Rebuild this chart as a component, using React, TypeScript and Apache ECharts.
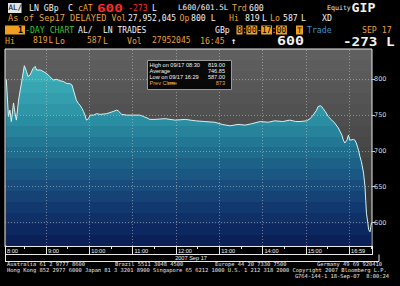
import React, { useEffect, useRef } from "react";
import * as echarts from "echarts";

// ---- data (minutes after 08:00, price in GBp) ----
const minutes = [
  5, 8, 10, 12, 15, 17, 19, 22, 26, 30, 33, 35, 38, 42, 45, 47, 52, 56, 61, 65,
  70, 75, 79, 84, 89, 93, 96, 98, 100, 102, 105, 107, 110, 112, 114, 116, 119, 121, 126, 130,
  135, 144, 153, 158, 160, 165, 172, 181, 190, 195, 200, 204, 211, 225, 239, 253, 267, 280, 294, 304,
  315, 326, 336, 345, 357, 368, 377, 388, 398, 406, 412, 421, 426, 430, 435, 437, 440, 442, 444, 447,
  451, 456, 460, 465, 470, 472, 474, 477, 479, 481, 486, 488, 490, 493, 495, 497, 500, 502, 503, 504,
  506, 507, 509, 510, 511,
];
const prices = [
  800, 748, 757, 741, 767, 753, 743, 771, 795, 819, 811, 804, 806, 815, 818, 813, 813, 811, 808, 804,
  799, 800, 798, 797, 794, 794, 792, 785, 778, 771, 766, 764, 759, 755, 750, 743, 745, 750, 750, 752,
  751, 752, 755, 757, 756, 751, 750, 750, 750, 748, 746, 744, 744, 745, 743, 744, 742, 741, 740, 737,
  735, 737, 736, 738, 741, 740, 742, 741, 743, 741, 741, 742, 745, 750, 757, 762, 763, 762, 759, 755,
  748, 743, 739, 732, 722, 715, 711, 715, 722, 715, 716, 715, 711, 701, 692, 685, 669, 650, 631, 613,
  599, 590, 587, 594, 600,
];

const hourTickValues = [3.2, 60, 120, 180, 240, 300, 360, 420, 480];
const hourTickLabels = ["8:00", "9:00", "10:00", "11:00", "12:00", "13:00", "14:00", "15:00", "16:59"];
const halfHourTicks = [30, 90, 150, 210, 270, 330, 390, 450, 510];
const priceTicks = [600, 650, 700, 750, 800];
const xMin = 3.2;
const xMax = 511.7;
const yMin = 567.2;
const yMax = 842.3;

const statLabels = ["High on 09/17 08:30", "Average", "Low on 09/17 16:29", "Prev Close"];
const statValues = ["819.00", "746.85", "587.00", "873"];

const footerRow1 = [
  ["Australia 61 2 9777 8600", 7],
  ["Brazil 5511 3048 4500", 115],
  ["Europe 44 20 7330 7500", 215],
  ["Germany 49 69 920410", 317],
] as [string, number][];
const footerRow2 =
  "Hong Kong 852 2977 6000 Japan 81 3 3201 8900 Singapore 65 6212 1000 U.S. 1 212 318 2000 Copyright 2007 Bloomberg L.P.";
const footerRow3 = "G764-144-1 18-Sep-07  8:00:24";
const dateLabel = "2007 Sep 17";

// ---- colour helpers ----
function hex(h: string) {
  const n = parseInt(h.slice(1), 16);
  return [(n >> 16) & 255, (n >> 8) & 255, n & 255];
}
function lerp(stops: [number, string][], f: number) {
  for (let i = 0; i < stops.length - 1; i++) {
    const [a, ca] = stops[i];
    const [b, cb] = stops[i + 1];
    if (f >= a && f <= b) {
      const t = (f - a) / (b - a);
      const A = hex(ca), B = hex(cb);
      const c = A.map((v, k) => Math.round(v + (B[k] - v) * t));
      return `rgb(${c[0]},${c[1]},${c[2]})`;
    }
  }
  return stops[stops.length - 1][1];
}
function banded(stops: [number, string][], n: number) {
  const out: { offset: number; color: string }[] = [];
  for (let i = 0; i < n; i++) {
    const c = lerp(stops, (i + 0.5) / n);
    out.push({ offset: i / n, color: c });
    out.push({ offset: (i + 1) / n, color: c });
  }
  return out;
}

const bgStops: [number, string][] = [
  [0, "#616161"],
  [0.5, "#474747"],
  [1, "#242424"],
];
const areaStops: [number, string][] = [
  [0, "#4cc2c8"],
  [0.15, "#3bacb6"],
  [0.35, "#2b90a3"],
  [0.52, "#1f6e8e"],
  [0.7, "#174b7c"],
  [0.88, "#0f2d66"],
  [1, "#0a1c52"],
];

const AMBER = "#e9a23b";
const WHITE = "#f2f2f2";
const RED = "#ff2b2b";
const GREEN = "#36c236";
const BLUE = "#3f93c9";
const ORANGE = "#f0a020";
const MONO = '"DejaVu Sans Mono", monospace';
const SANS = '"Liberation Sans", Arial, sans-serif';

function txt(
  text: string,
  x: number,
  y: number,
  fill: string,
  size = 8.2,
  weight = "normal",
  family = MONO,
  align = "left",
  scaleX = 1
) {
  return {
    type: "text",
    x,
    y,
    scaleX,
    z: 10,
    silent: true,
    style: { text, fill, fontSize: size, fontWeight: weight, fontFamily: family, align, verticalAlign: "middle" },
  };
}
function box(x: number, y: number, w: number, h: number, fill: string) {
  return { type: "rect", z: 9, silent: true, shape: { x, y, width: w, height: h }, style: { fill } };
}
function ln(x1: number, y1: number, x2: number, y2: number, stroke = "#e8e8e8") {
  return { type: "line", z: 10, silent: true, shape: { x1, y1, x2, y2 }, style: { stroke, lineWidth: 1 } };
}

export default function App() {
  const ref = useRef<HTMLDivElement>(null);
  useEffect(() => {
    document.body.style.background = "#000";
    const chart = echarts.init(ref.current!, undefined, { renderer: "svg" });
    const data = minutes.map((m, i) => [m, prices[i]]);
    const y1 = 7.8, y2 = 18.2, y3 = 30, y4 = 40.8;
    const cw = 8.2 * 0.602; // mono char width
    const rx = 237; // start of "8:00-17:00"
    const graphic: any[] = [
      // line 1
      box(8, 3, 13.5, 10, "#e4e4e4"),
      txt("AL/", 8.5, y1, "#000", 7.5),
      txt("LN GBp", 29, y1, WHITE),
      txt("C", 68, y1, WHITE),
      txt("cAT", 78, y1, AMBER),
      txt("600", 97, y1, RED, 11, "bold", MONO, "left", 1.3),
      txt("-273", 128, y1, RED),
      txt("L", 152, y1, WHITE),
      txt("L600/601.5L", 178, y1, WHITE, 7.6),
      txt("Trd", 232, y1, AMBER),
      txt("600", 249, y1, WHITE),
      txt("Equity", 327, y1, WHITE, 6.6),
      txt("GIP", 351.5, y1, WHITE, 12, "bold", MONO, "left", 1.1),
      // line 2
      txt("As of Sep17 DELAYED", 8, y2, AMBER, 8.6),
      txt("Vol", 111.5, y2, AMBER),
      txt("27,952,045", 128, y2, WHITE, 8),
      txt("Op", 179.5, y2, AMBER),
      txt("800 L", 191, y2, WHITE),
      txt("Hi", 229, y2, AMBER),
      txt("819", 245, y2, WHITE),
      txt("L", 262, y2, WHITE),
      txt("Lo", 270, y2, AMBER),
      txt("587", 283, y2, WHITE),
      txt("L", 301, y2, WHITE),
      txt("XD", 322, y2, WHITE),
      // line 3
      box(5, 25.5, 20, 9, ORANGE),
      txt("1", 18, y3, "#000", 8.2, "bold"),
      txt("-DAY CHART", 25, y3, GREEN),
      txt("AL/", 78, y3, WHITE),
      txt("LN TRADES", 103, y3, WHITE, 8),
      txt("GBp", 215, y3, WHITE),
      box(rx - 0.5, 25.5, cw + 1, 9, ORANGE),
      box(rx + cw * 2 - 0.5, 25.5, cw * 2 + 1, 9, ORANGE),
      box(rx + cw * 5 - 0.5, 25.5, cw * 2 + 1, 9, ORANGE),
      box(rx + cw * 8 - 0.5, 25.5, cw * 2 + 1, 9, ORANGE),
      {
        type: "text",
        x: rx,
        y: y3,
        z: 10,
        silent: true,
        style: {
          text: "{d|8}{s|:}{d|00}{s|-}{d|17}{s|:}{d|00}",
          fontSize: 8.2,
          fontFamily: MONO,
          verticalAlign: "middle",
          rich: {
            d: { fill: "#000", fontSize: 8.2, fontFamily: MONO },
            s: { fill: AMBER, fontSize: 8.2, fontFamily: MONO },
          },
        },
      },
      box(296, 25.5, 7, 9, ORANGE),
      txt("T", 297.2, y3, "#000", 7.5),
      txt("Trade", 307, y3, BLUE),
      txt("SEP 17", 362, y3, AMBER),
      // line 4
      txt("Hi", 5, y4, AMBER),
      txt("819", 33, y4, AMBER, 8),
      txt("L", 48.5, y4, AMBER, 8),
      txt("Lo", 55, y4, AMBER),
      txt("587", 87, y4, AMBER, 8),
      txt("L", 103, y4, AMBER),
      txt("Vol", 127, y4, AMBER),
      txt("27952045", 152, y4, AMBER, 8),
      txt("16:45", 200, y4, AMBER),
      txt("↑", 231, y4, WHITE, 9, "bold"),
      txt("600", 277, y4, WHITE, 13, "bold", MONO, "left", 1.15),
      txt("-273 L", 343, y4, WHITE, 13, "bold", MONO, "left", 1.1),
      // stats box
      {
        type: "rect",
        z: 9,
        silent: true,
        shape: { x: 147.5, y: 60.5, width: 84, height: 29 },
        style: { fill: "rgba(0,0,0,0.9)", stroke: "#9a9a9a", lineWidth: 1 },
      },
      ...statLabels.map((s, i) => txt(s, 149.5, 65.2 + i * 5.9, i === 3 ? AMBER : WHITE, 5.6, "normal", SANS)),
      ...statValues.map((s, i) =>
        txt(s, 225, 65.2 + i * 5.9, i === 3 ? AMBER : WHITE, 5.6, "normal", SANS, "right")
      ),
      ln(168, 83, 175, 83, AMBER),
      // label-row frame
      ln(5.5, 246, 5.5, 261.5),
      ln(372.5, 246, 372.5, 254),
      ln(5, 254.5, 373, 254.5),
      ln(5, 261.5, 379, 261.5),
      ln(379, 254.5, 379, 261.5),
      txt(dateLabel, 191, 258, WHITE, 5.6, "normal", SANS, "center"),
      // footer
      ...footerRow1.map(([s, x]) => txt(s, x, 263.5, "#e6e6e6", 5.4)),
      txt(footerRow2, 7, 269.5, "#e6e6e6", 5.4),
      txt(footerRow3, 389, 275.5, "#e6e6e6", 5.4, "normal", MONO, "right"),
    ];

    const labelFor = (v: number) => {
      let best = 0;
      hourTickValues.forEach((t, i) => {
        if (Math.abs(t - v) < Math.abs(hourTickValues[best] - v)) best = i;
      });
      return hourTickLabels[best];
    };

    chart.setOption({
      animation: false,
      backgroundColor: "#000",
      grid: {
        left: 5,
        top: 49,
        right: 28,
        bottom: 40,
        show: true,
        backgroundColor: new echarts.graphic.LinearGradient(0, 0, 0, 1, banded(bgStops, 18)),
        borderColor: "#e8e8e8",
        borderWidth: 1,
      },
      xAxis: [
        {
          type: "value",
          min: xMin,
          max: xMax,
          splitLine: { show: false },
          axisLine: { show: true, lineStyle: { color: "#e8e8e8", width: 1 } },
          axisTick: { show: true, customValues: hourTickValues, length: 8, lineStyle: { color: "#e8e8e8" } },
          axisLabel: {
            customValues: hourTickValues,
            formatter: (v: number) => labelFor(v),
            color: "#f4f4f4",
            fontSize: 5.6,
            fontFamily: SANS,
            align: "left",
            margin: 2,
            padding: [0, 0, 0, 2],
          },
        },
        {
          type: "value",
          min: xMin,
          max: xMax,
          position: "bottom",
          splitLine: { show: false },
          axisLine: { show: false },
          axisLabel: { show: false },
          axisTick: { show: true, customValues: halfHourTicks, length: 3, lineStyle: { color: "#e8e8e8" } },
        },
      ],
      yAxis: {
        type: "value",
        position: "right",
        min: yMin,
        max: yMax,
        splitLine: { show: false },
        axisLine: { show: false },
        axisTick: { show: true, customValues: priceTicks, length: 3, lineStyle: { color: "#c8c8c8" } },
        axisLabel: {
          customValues: priceTicks,
          color: "#dcdcdc",
          fontSize: 6.5,
          fontFamily: '"DejaVu Sans", sans-serif',
          margin: 2,
        },
      },
      series: [
        {
          type: "line",
          data,
          symbol: "none",
          showSymbol: false,
          lineStyle: { color: "#d6f2f2", width: 1 },
          areaStyle: {
            opacity: 1,
            color: new echarts.graphic.LinearGradient(0, 49, 0, 246, banded(areaStops, 18), true),
          },
          markLine: {
            silent: true,
            symbol: ["none", "none"],
            label: { show: false },
            lineStyle: { type: [1, 2], color: "rgba(210,210,210,0.5)", width: 1 },
            emphasis: { disabled: true },
            data: [
              ...priceTicks.map((v) => ({ yAxis: v })),
              ...hourTickValues.slice(1).map((v) => ({ xAxis: v })),
            ],
          },
        },
      ],
      graphic,
    });
    return () => chart.dispose();
  }, []);
  return (
    <div
      ref={ref}
      style={{ position: "fixed", left: 0, top: 0, width: 400, height: 286, background: "#000" }}
    />
  );
}
